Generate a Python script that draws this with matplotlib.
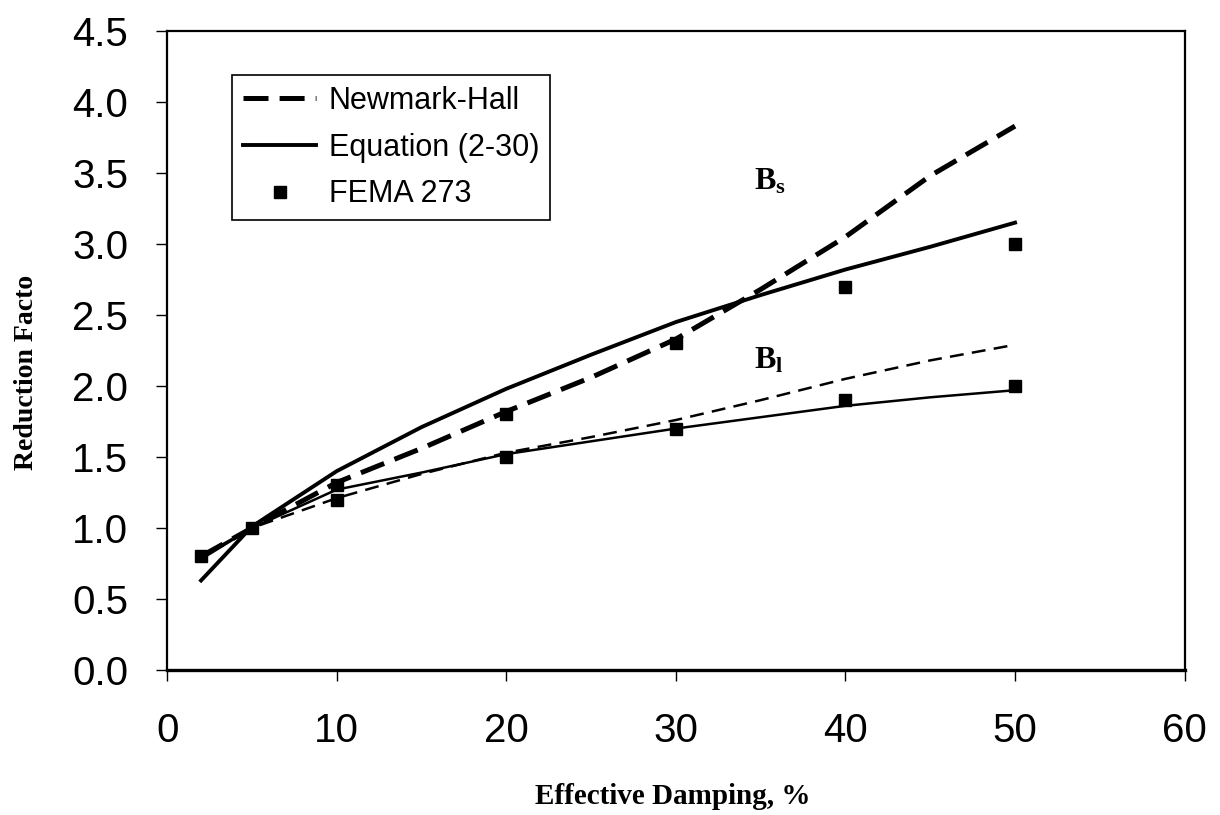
import matplotlib
matplotlib.use("Agg")
import matplotlib.pyplot as plt

# damping levels (%)
damping = [2, 5, 10, 15, 20, 25, 30, 35, 40, 45, 50]

bs_newmark = [0.80, 1.00, 1.32, 1.56, 1.82, 2.06, 2.33, 2.68, 3.05, 3.48, 3.83]
bs_equation = [0.63, 1.01, 1.40, 1.71, 1.98, 2.22, 2.45, 2.64, 2.82, 2.98, 3.15]
bl_newmark = [0.80, 1.00, 1.21, 1.38, 1.53, 1.64, 1.76, 1.90, 2.05, 2.18, 2.29]
bl_equation = [0.78, 1.00, 1.27, 1.39, 1.52, 1.61, 1.70, 1.78, 1.86, 1.92, 1.97]

fema_damping = [2, 5, 10, 20, 30, 40, 50, 10, 20, 30, 40, 50]
fema_values = [0.80, 1.00, 1.30, 1.80, 2.30, 2.70, 3.00, 1.20, 1.50, 1.70, 1.90, 2.00]

x_ticks = [0, 10, 20, 30, 40, 50, 60]
y_ticks = [0.0, 0.5, 1.0, 1.5, 2.0, 2.5, 3.0, 3.5, 4.0, 4.5]

plt.rcParams['lines.scale_dashes'] = False
plt.rcParams['mathtext.fontset'] = 'custom'
plt.rcParams['mathtext.bf'] = 'Liberation Serif:bold'
plt.rcParams['mathtext.rm'] = 'Liberation Serif:bold'

fig = plt.figure(figsize=(12.2, 8.15), dpi=100)
ax = fig.add_axes([0.137, 0.178, 0.834, 0.784])

ax.plot(damping, bs_newmark, color='black', lw=3.6, linestyle=(0, (18, 8)), label='Newmark-Hall')
ax.plot(damping, bs_equation, color='black', lw=2.8, label='Equation (2-30)')
ax.plot(damping, bl_newmark, color='black', lw=1.8, linestyle=(0, (10, 6)))
ax.plot(damping, bl_equation, color='black', lw=1.8)
ax.plot(fema_damping, fema_values, linestyle='none', marker='s', markersize=8,
        color='black', label='FEMA 273')

ax.text(34.6, 3.44, r'$\mathbf{B_s}$', fontsize=23, va='center', ha='left')
ax.text(34.6, 2.18, r'$\mathbf{B_l}$', fontsize=23, va='center', ha='left')

ax.set_xlim(0, 60)
ax.set_ylim(0, 4.5)
ax.set_xticks(x_ticks)
ax.set_yticks(y_ticks)
ax.set_yticklabels([f'{v:.1f}' for v in y_ticks])
ax.tick_params(axis='both', direction='out', length=8, width=1, labelsize=29)
ax.tick_params(axis='y', pad=20)
ax.tick_params(axis='x', pad=22)
for lab in ax.get_xticklabels() + ax.get_yticklabels():
    lab.set_family('Liberation Sans')
for side in ['left', 'right', 'top']:
    ax.spines[side].set_linewidth(1.6)
ax.spines['bottom'].set_linewidth(2.4)

ax.set_xlabel('Effective Damping, %', fontsize=21, fontweight='bold', family='Liberation Serif')
ax.set_ylabel('Reduction Facto', fontsize=20, fontweight='bold', family='Liberation Serif')
ax.xaxis.set_label_coords(0.497, -0.177)
ax.yaxis.set_label_coords(-0.126, 0.465)

leg = ax.legend(loc='upper left', bbox_to_anchor=(0.064, 0.931),
                prop={'family': 'Liberation Sans', 'size': 22},
                frameon=True, fancybox=False, edgecolor='black', framealpha=1,
                handlelength=2.4, handletextpad=0.4, labelspacing=0.55,
                borderpad=0.35, borderaxespad=0, markerscale=1.0)
leg.get_frame().set_linewidth(1.2)

fig.savefig('out.png', dpi=100)
